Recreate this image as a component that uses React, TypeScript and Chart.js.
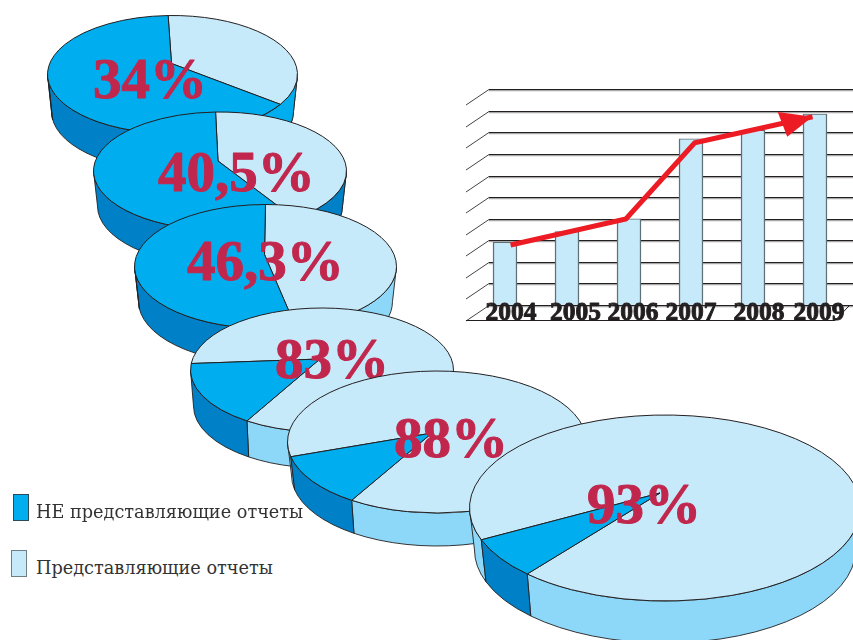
import React, { useEffect, useRef } from "react";
import { Chart, registerables } from "chart.js";

Chart.register(...registerables);

// ---------- data ----------
const reportingShares = [34, 40.5, 46.3, 83, 88, 93];
const nonReportingShares = [66, 59.5, 53.7, 17, 12, 7];
const pieLabels = ["34%", "40,5%", "46,3%", "83%", "88%", "93%"];
const sliceNames = ["Представляющие отчеты", "НЕ представляющие отчеты"];

const years = ["2004", "2005", "2006", "2007", "2008", "2009"];
const barValues = [29, 34, 40, 77, 81, 88.5];
const trendYears = [2004.09, 2005.95, 2007.06, 2008.96];
const trendValues = [27.8, 39.9, 75.2, 87.3];

const legendTexts = ["НЕ представляющие отчеты", "Представляющие отчеты"];

// ---------- styles and layout ----------
const TOP_DARK = "#00AEEF";
const TOP_LIGHT = "#C7EAFB";
const WALL_DARK = "#0080C6";
const WALL_LIGHT = "#8DD8F8";
const INK = "#231F20";
const LABEL = "#C1274D";
const PAD = 4;

type WallPatch = { from: number; to: number; color: string };
type PieLayout = {
  cx: number; cy: number; rx: number; ry: number; depth: number; shrink: number;
  apexDx: number; apexDy: number; rotation: number;
  labelX: number; labelY: number; patches: WallPatch[];
};

const pieLayouts: PieLayout[] = [
  { cx: 172.5, cy: 74, rx: 125.5, ry: 59, depth: 37, shrink: 4, apexDx: -1, apexDy: -11, rotation: -2, labelX: 93, labelY: 97,
    patches: [{ from: 0, to: 90, color: TOP_DARK }, { from: 172, to: 180, color: TOP_DARK }] },
  { cx: 220, cy: 171, rx: 127, ry: 59, depth: 35, shrink: 4, apexDx: -2, apexDy: -10, rotation: -2, labelX: 158, labelY: 190.5,
    patches: [{ from: 0, to: 90, color: WALL_DARK }] },
  { cx: 265.5, cy: 266, rx: 131.5, ry: 62, depth: 35, shrink: 4, apexDx: -1, apexDy: -12, rotation: 0, labelX: 187, labelY: 279,
    patches: [{ from: 173, to: 180, color: WALL_LIGHT }] },
  { cx: 322, cy: 370, rx: 132, ry: 62, depth: 36, shrink: 3, apexDx: -2, apexDy: -11, rotation: 276, labelX: 275, labelY: 378, patches: [] },
  { cx: 437, cy: 442, rx: 150, ry: 71, depth: 33, shrink: 4, apexDx: -5, apexDy: -9, rotation: 258, labelX: 394, labelY: 457, patches: [] },
  { cx: 665, cy: 508, rx: 196, ry: 93, depth: 42, shrink: 5, apexDx: -5, apexDy: -15, rotation: 250, labelX: 587, labelY: 523, patches: [] },
];

const topColors = [TOP_LIGHT, TOP_DARK];
const wallColors = [WALL_LIGHT, WALL_DARK];

// Draws the chart's arc elements as a tilted disc with a side wall.
function discPlugin(p: PieLayout, label: string, left: number, top: number) {
  return {
    id: "disc",
    beforeDatasetsDraw(chart: any) {
      const ctx: CanvasRenderingContext2D = chart.ctx;
      const arcs = chart.getDatasetMeta(0).data;
      const { x, y, outerRadius } = arcs[0];
      const rx = outerRadius;
      const ry = p.ry;
      const wall = (a0: number, a1: number, color: string) => {
        ctx.beginPath();
        ctx.ellipse(x, y, rx, ry, 0, a0, a1);
        ctx.ellipse(x, y + p.depth, rx - p.shrink, ry, 0, a1, a0, true);
        ctx.closePath();
        ctx.fillStyle = color;
        ctx.fill();
        ctx.lineWidth = 0.9;
        ctx.strokeStyle = INK;
        ctx.stroke();
      };
      ctx.save();
      arcs.forEach((arc: any, i: number) => {
        for (let k = -2; k <= 1; k++) {
          const lo = Math.max(arc.startAngle + 2 * Math.PI * k, 0);
          const hi = Math.min(arc.endAngle + 2 * Math.PI * k, Math.PI);
          if (hi > lo) wall(lo, hi, wallColors[i]);
        }
      });
      p.patches.forEach((w) => wall((w.from * Math.PI) / 180, (w.to * Math.PI) / 180, w.color));
      arcs.forEach((arc: any, i: number) => {
        ctx.beginPath();
        ctx.moveTo(x + p.apexDx, y + p.apexDy);
        ctx.ellipse(x, y, rx, ry, 0, arc.startAngle, arc.endAngle);
        ctx.closePath();
        ctx.fillStyle = topColors[i];
        ctx.fill();
        ctx.lineWidth = 1;
        ctx.strokeStyle = INK;
        ctx.stroke();
      });
      ctx.restore();
      return false;
    },
    afterDraw(chart: any) {
      const ctx: CanvasRenderingContext2D = chart.ctx;
      ctx.save();
      ctx.font = 'bold 57px "Liberation Serif"';
      ctx.fillStyle = LABEL;
      ctx.strokeStyle = LABEL;
      ctx.lineWidth = 1;
      ctx.lineJoin = "round";
      ctx.textAlign = "left";
      ctx.textBaseline = "alphabetic";
      ctx.fillText(label, p.labelX - left, p.labelY - top);
      ctx.strokeText(label, p.labelX - left, p.labelY - top);
      ctx.restore();
    },
  };
}

function Pie({ index }: { index: number }) {
  const ref = useRef<HTMLCanvasElement>(null);
  const p = pieLayouts[index];
  const side = Math.round(2 * p.rx + 2 * PAD);
  const left = p.cx - side / 2;
  const top = p.cy - side / 2;
  useEffect(() => {
    const chart = new Chart(ref.current as HTMLCanvasElement, {
      type: "pie",
      data: {
        labels: sliceNames,
        datasets: [{
          data: [reportingShares[index], nonReportingShares[index]],
          backgroundColor: topColors,
          borderColor: INK,
          borderWidth: 1,
        }],
      },
      options: {
        animation: false,
        responsive: false,
        rotation: p.rotation,
        layout: { padding: PAD },
        plugins: { legend: { display: false }, tooltip: { enabled: false } },
      },
      plugins: [discPlugin(p, pieLabels[index], left, top)],
    } as any);
    return () => chart.destroy();
  }, []);
  return (
    <canvas
      ref={ref}
      width={side}
      height={side}
      style={{ position: "absolute", left, top, zIndex: index + 2, pointerEvents: "none" }}
    />
  );
}

// ---------- bar chart ----------
const BAR_BOX = { left: 453, top: 70, width: 400, height: 270 };
const GRID_LEFT = 489;
const GRID_RIGHT = 853;
const OBLIQUE_DX = -23;
const OBLIQUE_DY = 15.5;
const FLOOR_Y = 320;
const FLOOR_RIGHT = 835;
const labelShift = [6, 8.5, 4, 0, 6, 4];

const wallPlugin = {
  id: "backWall",
  beforeDatasetsDraw(chart: any) {
    const ctx: CanvasRenderingContext2D = chart.ctx;
    const yScale = chart.scales.y;
    const gl = GRID_LEFT - BAR_BOX.left;
    const gr = GRID_RIGHT - BAR_BOX.left;
    ctx.save();
    yScale.ticks.forEach((t: any) => {
      const py = Math.round(yScale.getPixelForValue(t.value)) + 0.5;
      ctx.strokeStyle = "#a8a8a8";
      ctx.lineWidth = 1.2;
      ctx.beginPath();
      ctx.moveTo(gl, py + 1.1);
      ctx.lineTo(gr, py + 1.1);
      ctx.stroke();
      ctx.strokeStyle = INK;
      ctx.lineWidth = 1;
      ctx.beginPath();
      ctx.moveTo(gl, py);
      ctx.lineTo(gr, py);
      ctx.stroke();
      ctx.strokeStyle = "#444";
      ctx.beginPath();
      ctx.moveTo(gl, py);
      ctx.lineTo(gl + OBLIQUE_DX, py + OBLIQUE_DY);
      ctx.stroke();
    });
    const fy = FLOOR_Y - BAR_BOX.top + 0.5;
    const by = yScale.getPixelForValue(0);
    ctx.strokeStyle = INK;
    ctx.beginPath();
    ctx.moveTo(gl + OBLIQUE_DX, fy);
    ctx.lineTo(FLOOR_RIGHT - BAR_BOX.left, fy);
    ctx.lineTo(FLOOR_RIGHT - BAR_BOX.left + 14, by + 1);
    ctx.stroke();
    ctx.restore();
  },
  afterDatasetsDraw(chart: any) {
    const ctx: CanvasRenderingContext2D = chart.ctx;
    const xScale = chart.scales.x;
    const pts = chart.getDatasetMeta(1).data;
    const tip = pts[pts.length - 1];
    const prev = pts[pts.length - 2];
    const ang = Math.atan2(tip.y - prev.y, tip.x - prev.x);
    ctx.save();
    ctx.translate(tip.x, tip.y);
    ctx.rotate(ang);
    ctx.fillStyle = "#ED1C24";
    ctx.beginPath();
    ctx.moveTo(0, 0);
    ctx.lineTo(-33, -12);
    ctx.lineTo(-29, 14);
    ctx.closePath();
    ctx.fill();
    ctx.restore();

    ctx.save();
    ctx.font = 'bold 25.5px "Liberation Serif"';
    ctx.fillStyle = INK;
    ctx.strokeStyle = INK;
    ctx.lineWidth = 0.9;
    ctx.lineJoin = "round";
    ctx.textAlign = "center";
    ctx.textBaseline = "alphabetic";
    years.forEach((yr, i) => {
      const px = xScale.getPixelForTick(i) + labelShift[i];
      ctx.fillText(yr, px, FLOOR_Y - BAR_BOX.top);
      ctx.strokeText(yr, px, FLOOR_Y - BAR_BOX.top);
    });
    ctx.restore();
  },
};

function BarTrend() {
  const ref = useRef<HTMLCanvasElement>(null);
  useEffect(() => {
    const chart = new Chart(ref.current as HTMLCanvasElement, {
      type: "bar",
      data: {
        labels: years,
        datasets: [
          {
            type: "bar",
            data: barValues,
            xAxisID: "x",
            grouped: false,
            backgroundColor: TOP_LIGHT,
            borderColor: "#5F7077",
            borderWidth: { left: 1.5, right: 1.5, top: 1, bottom: 0 },
            barThickness: 24,
            order: 2,
          },
          {
            type: "line",
            data: trendYears.map((x, i) => ({ x, y: trendValues[i] })),
            xAxisID: "trendX",
            borderColor: "#ED1C24",
            borderWidth: 5,
            borderCapStyle: "butt",
            borderJoinStyle: "miter",
            pointRadius: 0,
            tension: 0,
            order: 1,
          },
        ],
      },
      options: {
        animation: false,
        responsive: false,
        layout: { padding: { left: 21, right: 7, top: 19.3, bottom: 35 } },
        scales: {
          x: { display: false, offset: true },
          trendX: { type: "linear", axis: "x", display: false, offset: false, min: 2003.5, max: 2009.5 },
          y: { display: false, min: 0, max: 100, ticks: { stepSize: 10 } },
        },
        plugins: { legend: { display: false }, tooltip: { enabled: false } },
      },
      plugins: [wallPlugin],
    } as any);
    return () => chart.destroy();
  }, []);
  return (
    <canvas
      ref={ref}
      width={BAR_BOX.width}
      height={BAR_BOX.height}
      style={{ position: "absolute", left: BAR_BOX.left, top: BAR_BOX.top, zIndex: 1 }}
    />
  );
}

// ---------- legend ----------
const legendRows = [
  { boxLeft: 13, boxTop: 494, fill: TOP_DARK, border: "#2b4a5a", textTop: 518 },
  { boxLeft: 11, boxTop: 550, fill: TOP_LIGHT, border: "#6E7F86", textTop: 574 },
];

export default function App() {
  return (
    <div style={{ position: "fixed", left: 0, top: 0, width: 853, height: 640, overflow: "hidden", background: "#fff" }}>
      <BarTrend />
      {pieLayouts.map((_, i) => (
        <Pie key={i} index={i} />
      ))}
      {legendRows.map((r, i) => (
        <React.Fragment key={i}>
          <div
            style={{
              position: "absolute", left: r.boxLeft, top: r.boxTop, width: 14, height: 25,
              background: r.fill, border: `1px solid ${r.border}`, zIndex: 10,
            }}
          />
          <div
            style={{
              position: "absolute", left: 36, top: r.textTop - 16, height: 20,
              font: '17.7px/20px "DejaVu Serif"', color: "#333", whiteSpace: "nowrap", zIndex: 10,
            }}
          >
            {legendTexts[i]}
          </div>
        </React.Fragment>
      ))}
    </div>
  );
}
